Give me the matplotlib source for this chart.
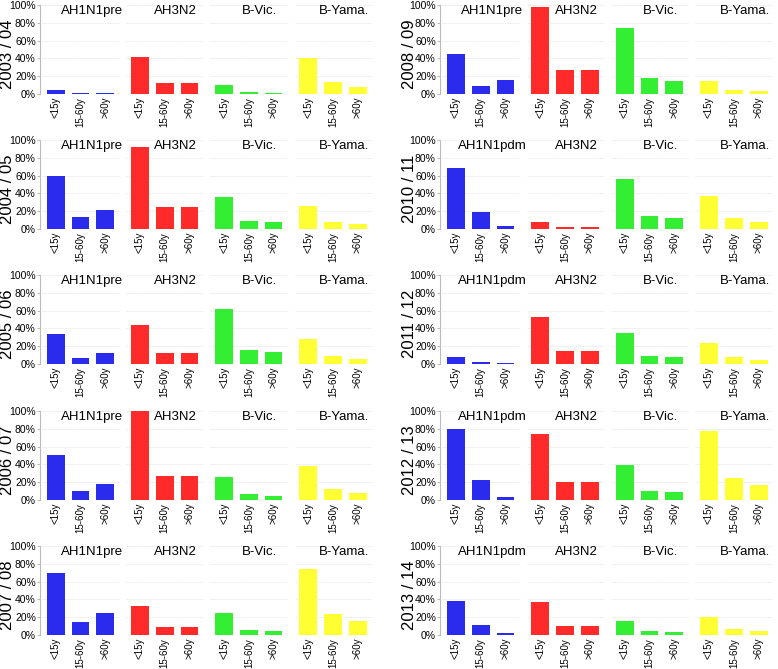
import matplotlib.pyplot as plt
import numpy as np

plt.rcParams['font.family'] = ['Liberation Sans', 'DejaVu Sans']

seasons = ["2003 / 04", "2004 / 05", "2005 / 06", "2006 / 07", "2007 / 08",
           "2008 / 09", "2010 / 11", "2011 / 12", "2012 / 13", "2013 / 14"]
age_groups = ["<15y", "15-60y", ">60y"]
colors = ["#2b2bee", "#ff2b2b", "#33ee33", "#ffff33"]

# subtype labels per season (first subtype changes after 2009)
subtypes_pre = ["AH1N1pre", "AH3N2", "B-Vic.", "B-Yama."]
subtypes_pdm = ["AH1N1pdm", "AH3N2", "B-Vic.", "B-Yama."]

# percent, one row per season, columns = <15y, 15-60y, >60y
h1 = [[5, 1, 1.5], [60, 13, 21], [34, 7, 12], [51, 10.5, 18], [70, 15, 25],
      [45, 9.5, 16], [68, 19.5, 3], [8, 2, 0.7], [80, 23, 3.5], [38, 11, 2]]
h3 = [[42, 12, 12], [92, 25, 25], [44, 12, 12], [100, 27.5, 27.5], [33, 9, 9],
      [98, 27, 27], [8, 2, 2], [53, 15, 15], [74, 20, 20], [37, 10.5, 10.5]]
bvic = [[10, 2, 1.5], [36, 9, 7.5], [62, 15.5, 13], [26, 6.5, 5], [25, 6, 5],
        [74, 18.5, 15], [56, 14.5, 12], [35, 9, 7.5], [39, 10, 8.5], [15.5, 4, 3.5]]
byam = [[40, 13, 8], [26, 8, 5.5], [28, 9, 6], [38, 12, 8], [74, 24, 16],
        [14.5, 4.5, 3], [37, 12, 8], [23.5, 7.5, 5], [78, 25, 17], [20.5, 7, 4.5]]

W, H = 778, 669
fig = plt.figure(figsize=(W / 100, H / 100), dpi=100)

tops = [5, 140, 275, 411, 546]
ax_h = 89
cols = [(40, 375), (440, 776)]
label_x = [8, 409]
pitch = 3.4

for k, season in enumerate(seasons):
    c, r = divmod(k, 5)
    x0, x1 = cols[c]
    ax = fig.add_axes([x0 / W, 1 - (tops[r] + ax_h) / H, (x1 - x0) / W, ax_h / H])
    names = subtypes_pre if k < 6 else subtypes_pdm
    series = [h1[k], h3[k], bvic[k], byam[k]]
    ticks, labels = [], []
    for g, vals in enumerate(series):
        x = g * pitch + np.arange(3)
        # faint grid per group
        ax.hlines([20, 40, 60, 80, 100], g * pitch - 0.55, g * pitch + 2.55,
                  color="#e6e6e6", lw=0.6, linestyle=(0, (2, 1)), zorder=0)
        ax.bar(x, vals, width=0.72, color=colors[g], zorder=2)
        ax.text(g * pitch + 1.45, 93, names[g], ha="center", va="center", fontsize=9.5)
        ticks += list(x)
        labels += age_groups
    ax.set_xlim(-0.64, 3 * pitch + 2.7)
    ax.set_ylim(0, 100)
    ax.set_yticks(range(0, 101, 20))
    ax.set_yticklabels([f"{v}%" for v in range(0, 101, 20)], fontsize=7.5)
    ax.set_xticks(ticks)
    ax.set_xticklabels(labels, rotation=90, fontsize=7)
    ax.tick_params(axis="x", length=0, pad=2)
    ax.tick_params(axis="y", length=2, color="#bbbbbb", pad=1)
    for s in ["top", "right", "bottom"]:
        ax.spines[s].set_visible(False)
    ax.spines["left"].set_color("#bbbbbb")
    ax.set_ylabel(season, fontsize=12, va="center")
    ax.yaxis.set_label_coords((label_x[c] - x0) / (x1 - x0), 0.45)

fig.savefig("out.png", dpi=100)
